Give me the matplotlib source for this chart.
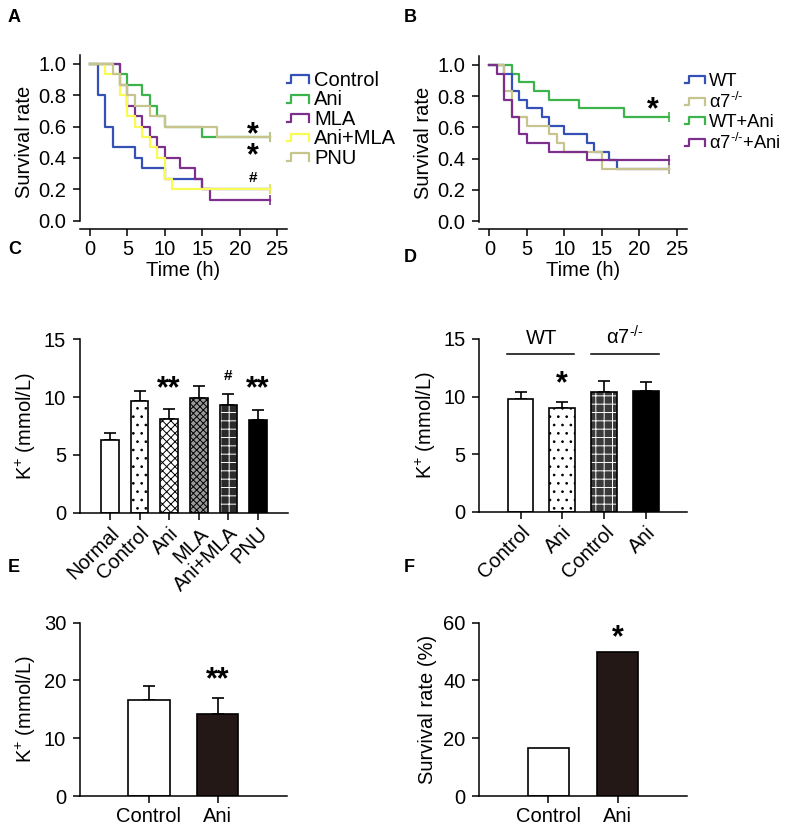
import numpy as np
import matplotlib
matplotlib.use('Agg')
import matplotlib.pyplot as plt
from matplotlib.legend_handler import HandlerBase
from matplotlib.lines import Line2D

plt.rcParams['font.family'] = ['Liberation Sans', 'DejaVu Sans']
plt.rcParams['mathtext.fontset'] = 'custom'
plt.rcParams['mathtext.rm'] = 'Liberation Sans'
plt.rcParams['mathtext.it'] = 'Liberation Sans'
plt.rcParams['hatch.linewidth'] = 0.7

# ---- panel A: survival curves ----
ctrl_t = [0, 1, 2, 3, 6, 7, 10, 15, 24]
ctrl_s = [1.0, 0.8, 0.6, 0.467, 0.4, 0.333, 0.267, 0.2, 0.2]
ani_t = [0, 4, 5, 7, 8, 9, 10, 15, 24]
ani_s = [1.0, 0.933, 0.867, 0.8, 0.733, 0.667, 0.6, 0.533, 0.533]
mla_t = [0, 4, 5, 6, 7, 8, 9, 10, 12, 14, 15, 16, 24]
mla_s = [1.0, 0.867, 0.733, 0.667, 0.6, 0.533, 0.467, 0.4, 0.333, 0.267, 0.2, 0.133, 0.133]
animla_t = [0, 2, 4, 5, 6, 7, 8, 9, 10, 11, 24]
animla_s = [1.0, 0.933, 0.8, 0.667, 0.6, 0.533, 0.467, 0.4, 0.267, 0.2, 0.2]
pnu_t = [0, 3, 4, 5, 6, 8, 10, 17, 24]
pnu_s = [1.0, 0.933, 0.867, 0.8, 0.733, 0.667, 0.6, 0.533, 0.533]

# ---- panel B: survival curves ----
wt_t = [0, 2, 3, 4, 5, 7, 8, 10, 13, 14, 16, 17, 24]
wt_s = [1.0, 0.944, 0.833, 0.778, 0.722, 0.667, 0.611, 0.556, 0.5, 0.444, 0.389, 0.333, 0.333]
ko_t = [0, 2, 3, 5, 8, 9, 10, 15, 24]
ko_s = [1.0, 0.833, 0.667, 0.611, 0.556, 0.5, 0.444, 0.333, 0.333]
wtani_t = [0, 3, 4, 6, 8, 12, 18, 24]
wtani_s = [1.0, 0.944, 0.889, 0.833, 0.778, 0.722, 0.667, 0.667]
koani_t = [0, 1, 2, 3, 4, 5, 8, 13, 24]
koani_s = [1.0, 0.944, 0.778, 0.667, 0.556, 0.5, 0.444, 0.389, 0.389]

# ---- panel C ----
c_labels = ['Normal', 'Control', 'Ani', 'MLA', 'Ani+MLA', 'PNU']
c_vals = [6.3, 9.7, 8.1, 9.95, 9.3, 8.0]
c_err = [0.58, 0.84, 0.84, 1.0, 0.95, 0.86]

# ---- panel D ----
d_labels = ['Control', 'Ani', 'Control', 'Ani']
d_vals = [9.75, 9.0, 10.4, 10.45]
d_err = [0.62, 0.55, 0.95, 0.82]

# ---- panel E ----
e_labels = ['Control', 'Ani']
e_vals = [16.6, 14.2]
e_err = [2.4, 2.7]

# ---- panel F ----
f_labels = ['Control', 'Ani']
f_vals = [16.7, 50.0]

BLUE = '#3551b5'
GREEN = '#3cb44b'
PURPLE = '#7d2f8c'
YELLOW = '#fafa55'
KHAKI = '#c8c48e'
DARK = '#231815'

FS = 14.5
KO = 'α7$^{\\text{-/-}}$'
W, H = 787, 826
fig = plt.figure(figsize=(W / 100, H / 100), dpi=100)


def ax_px(x0, x1, ytop, ybot):
    return fig.add_axes([x0 / W, 1 - ybot / H, (x1 - x0) / W, (ybot - ytop) / H])


def style(ax):
    for s in ['top', 'right']:
        ax.spines[s].set_visible(False)
    for s in ['left', 'bottom']:
        ax.spines[s].set_linewidth(1.1)
    ax.tick_params(direction='out', length=5, width=1.1, labelsize=FS)
    ax.tick_params(axis='y', pad=5)
    ax.tick_params(axis='x', pad=3)


class StepHandler(HandlerBase):
    def create_artists(self, legend, orig_handle, xdescent, ydescent,
                       width, height, fontsize, trans):
        lo = height * 0.2
        hi = height * 0.75
        xs = [0, width * 0.2, width * 0.2, width, width]
        ys = [lo, lo, hi, hi, lo]
        ln = Line2D(xs, ys, color=orig_handle.get_color(), lw=1.6)
        ln.set_transform(trans)
        return [ln]


def km(ax, t, s, c, label):
    ln, = ax.step(t, s, where='post', color=c, lw=1.6, label=label)
    ax.plot(t[-1], s[-1], marker='|', ms=7, mew=1.2, color=c)
    return ln


def km_axes(ax):
    style(ax)
    ax.set_xlim(-1.34, 26.3)
    ax.set_ylim(-0.053, 1.057)
    ax.spines['left'].set_bounds(-0.005, 1.057)
    ax.set_xticks([0, 5, 10, 15, 20, 25])
    ax.set_yticks([0, 0.2, 0.4, 0.6, 0.8, 1.0])
    ax.set_yticklabels(['0.0', '0.2', '0.4', '0.6', '0.8', '1.0'])
    ax.set_xlabel('Time (h)', fontsize=FS, labelpad=1)
    ax.set_ylabel('Survival rate', fontsize=FS, labelpad=3)


# A
axA = ax_px(80, 287, 55, 229)
km_axes(axA)
hA = {}
hA['Control'] = km(axA, ctrl_t, ctrl_s, BLUE, 'Control')
hA['Ani'] = km(axA, ani_t, ani_s, GREEN, 'Ani')
hA['MLA'] = km(axA, mla_t, mla_s, PURPLE, 'MLA')
hA['Ani+MLA'] = km(axA, animla_t, animla_s, YELLOW, 'Ani+MLA')
hA['PNU'] = km(axA, pnu_t, pnu_s, KHAKI, 'PNU')
order = ['Control', 'Ani', 'MLA', 'Ani+MLA', 'PNU']
fig.legend([hA[k] for k in order], order, loc='upper left',
           bbox_to_anchor=(287 / W, 1 - 71 / H), frameon=False, fontsize=FS,
           handler_map={Line2D: StepHandler()}, handlelength=1.1,
           handletextpad=0.25, labelspacing=0.02, borderpad=0, borderaxespad=0)
# two stars stacked in one text (Ani and PNU vs Control)
axA.text(21.8, 0.36, '*\n*', fontsize=22, fontweight='bold', ha='center', va='baseline',
         linespacing=0.62)
axA.text(21.8, 0.245, '#', fontsize=11, fontweight='bold', ha='center', va='baseline')

# B
axB = ax_px(479.3, 686.7, 56, 229.3)
km_axes(axB)
lb1 = km(axB, wtani_t, wtani_s, GREEN, 'WT+Ani')
lb2 = km(axB, wt_t, wt_s, BLUE, 'WT')
lb3 = km(axB, ko_t, ko_s, KHAKI, 'a7')
lb4 = km(axB, koani_t, koani_s, PURPLE, 'a7ani')
fig.legend([lb2, lb3, lb1, lb4],
           ['WT', KO, 'WT+Ani', KO + '+Ani'], loc='upper left',
           bbox_to_anchor=(685 / W, 1 - 73 / H), frameon=False, fontsize=13.2,
           handler_map={Line2D: StepHandler()}, handlelength=1.1,
           handletextpad=0.2, labelspacing=0.1, borderpad=0, borderaxespad=0)
axB.text(21.8, 0.66, '*', fontsize=22, fontweight='bold', ha='center', va='baseline')


def bar_with_err(ax, x, v, e, face='white', hatch=None, hcol='black', width=0.6):
    if hatch is not None and hcol == 'white':
        ax.bar(x, v, width, color=face, edgecolor='white', hatch=hatch, linewidth=0, zorder=2)
        ax.bar(x, v, width, fill=False, edgecolor='black', linewidth=1.2, zorder=3)
    else:
        ax.bar(x, v, width, color=face, edgecolor='black', hatch=hatch, linewidth=1.2, zorder=2)
    if e is not None:
        ax.errorbar(x, v, yerr=[[0], [e]], fmt='none', ecolor='black',
                    elinewidth=1.2, capsize=4, capthick=1.2, zorder=1)


# C
axC = ax_px(80, 288.3, 339.3, 512.7)
style(axC)
xc = np.arange(len(c_labels))
c_styles = [('white', None, 'black'), ('white', '..', 'black'), ('white', 'xxxx', 'black'),
            ('#9a9a9a', 'xxxxx', 'black'), ('#2a2a2a', '++', 'white'), ('black', None, 'black')]
for i in range(len(c_labels)):
    f, h, hc = c_styles[i]
    bar_with_err(axC, xc[i], c_vals[i], c_err[i], f, h, hc)
axC.set_xlim(-1.01, 6.02)
axC.set_ylim(0, 15)
axC.set_yticks([0, 5, 10, 15])
axC.set_xticks(xc)
axC.set_xticklabels(c_labels, rotation=45, ha='right', rotation_mode='anchor', fontsize=FS)
axC.set_ylabel('K$^{+}$ (mmol/L)', fontsize=FS, labelpad=4)
axC.text(2, 10.0, '**', fontsize=22, fontweight='bold', ha='center', va='baseline')
axC.text(5, 10.0, '**', fontsize=22, fontweight='bold', ha='center', va='baseline')
axC.text(4, 11.5, '#', fontsize=11, fontweight='bold', ha='center', va='baseline')

# D
axD = ax_px(479.3, 687.3, 339, 511.7)
style(axD)
xd = np.arange(len(d_labels))
d_styles = [('white', None, 'black'), ('white', '..', 'black'),
            ('#3a3a3a', '++', 'white'), ('black', None, 'black')]
for i in range(len(d_labels)):
    f, h, hc = d_styles[i]
    bar_with_err(axD, xd[i], d_vals[i], d_err[i], f, h, hc, width=0.62)
axD.set_xlim(-0.99, 4.0)
axD.set_ylim(0, 15)
axD.set_yticks([0, 5, 10, 15])
axD.set_xticks(xd)
axD.set_xticklabels(d_labels, rotation=45, ha='right', rotation_mode='anchor', fontsize=FS)
axD.set_ylabel('K$^{+}$ (mmol/L)', fontsize=FS, labelpad=4)
axD.text(1, 10.4, '*', fontsize=22, fontweight='bold', ha='center', va='baseline')
axD.plot([-0.32, 1.29], [13.7, 13.7], color='black', lw=1.1, clip_on=False)
axD.plot([1.68, 3.32], [13.7, 13.7], color='black', lw=1.1, clip_on=False)
axD.text(0.5, 14.2, 'WT', fontsize=FS, ha='center', va='bottom')
axD.text(2.5, 14.2, KO, fontsize=FS, ha='center', va='bottom')

# E
axE = ax_px(80, 286.7, 622.7, 796)
style(axE)
xe = np.arange(len(e_labels))
bar_with_err(axE, xe[0], e_vals[0], e_err[0], 'white')
bar_with_err(axE, xe[1], e_vals[1], e_err[1], DARK)
axE.set_xlim(-1.0, 2.0)
axE.set_ylim(0, 30)
axE.set_yticks([0, 10, 20, 30])
axE.set_xticks(xe)
axE.set_xticklabels(e_labels, fontsize=FS)
axE.set_ylabel('K$^{+}$ (mmol/L)', fontsize=FS, labelpad=4)
axE.text(1, 18.6, '**', fontsize=22, fontweight='bold', ha='center', va='baseline')

# F
axF = ax_px(479.3, 686.7, 622.7, 796)
style(axF)
xf = np.arange(len(f_labels))
bar_with_err(axF, xf[0], f_vals[0], None, 'white')
bar_with_err(axF, xf[1], f_vals[1], None, DARK)
axF.set_xlim(-1.0, 2.0)
axF.set_ylim(0, 60)
axF.set_yticks([0, 20, 40, 60])
axF.set_xticks(xf)
axF.set_xticklabels(f_labels, fontsize=FS)
axF.set_ylabel('Survival rate (%)', fontsize=FS, labelpad=4)
axF.text(1, 52.0, '*', fontsize=22, fontweight='bold', ha='center', va='baseline')

# panel letters
for lab, x, y in [('A', 8, 18), ('B', 404, 18), ('C', 8, 250), ('D', 404, 258),
                  ('E', 8, 568), ('F', 404, 568)]:
    fig.text(x / W, 1 - y / H, lab, fontsize=13, fontweight='bold', va='center', ha='left')

fig.savefig('out.png', dpi=100)
